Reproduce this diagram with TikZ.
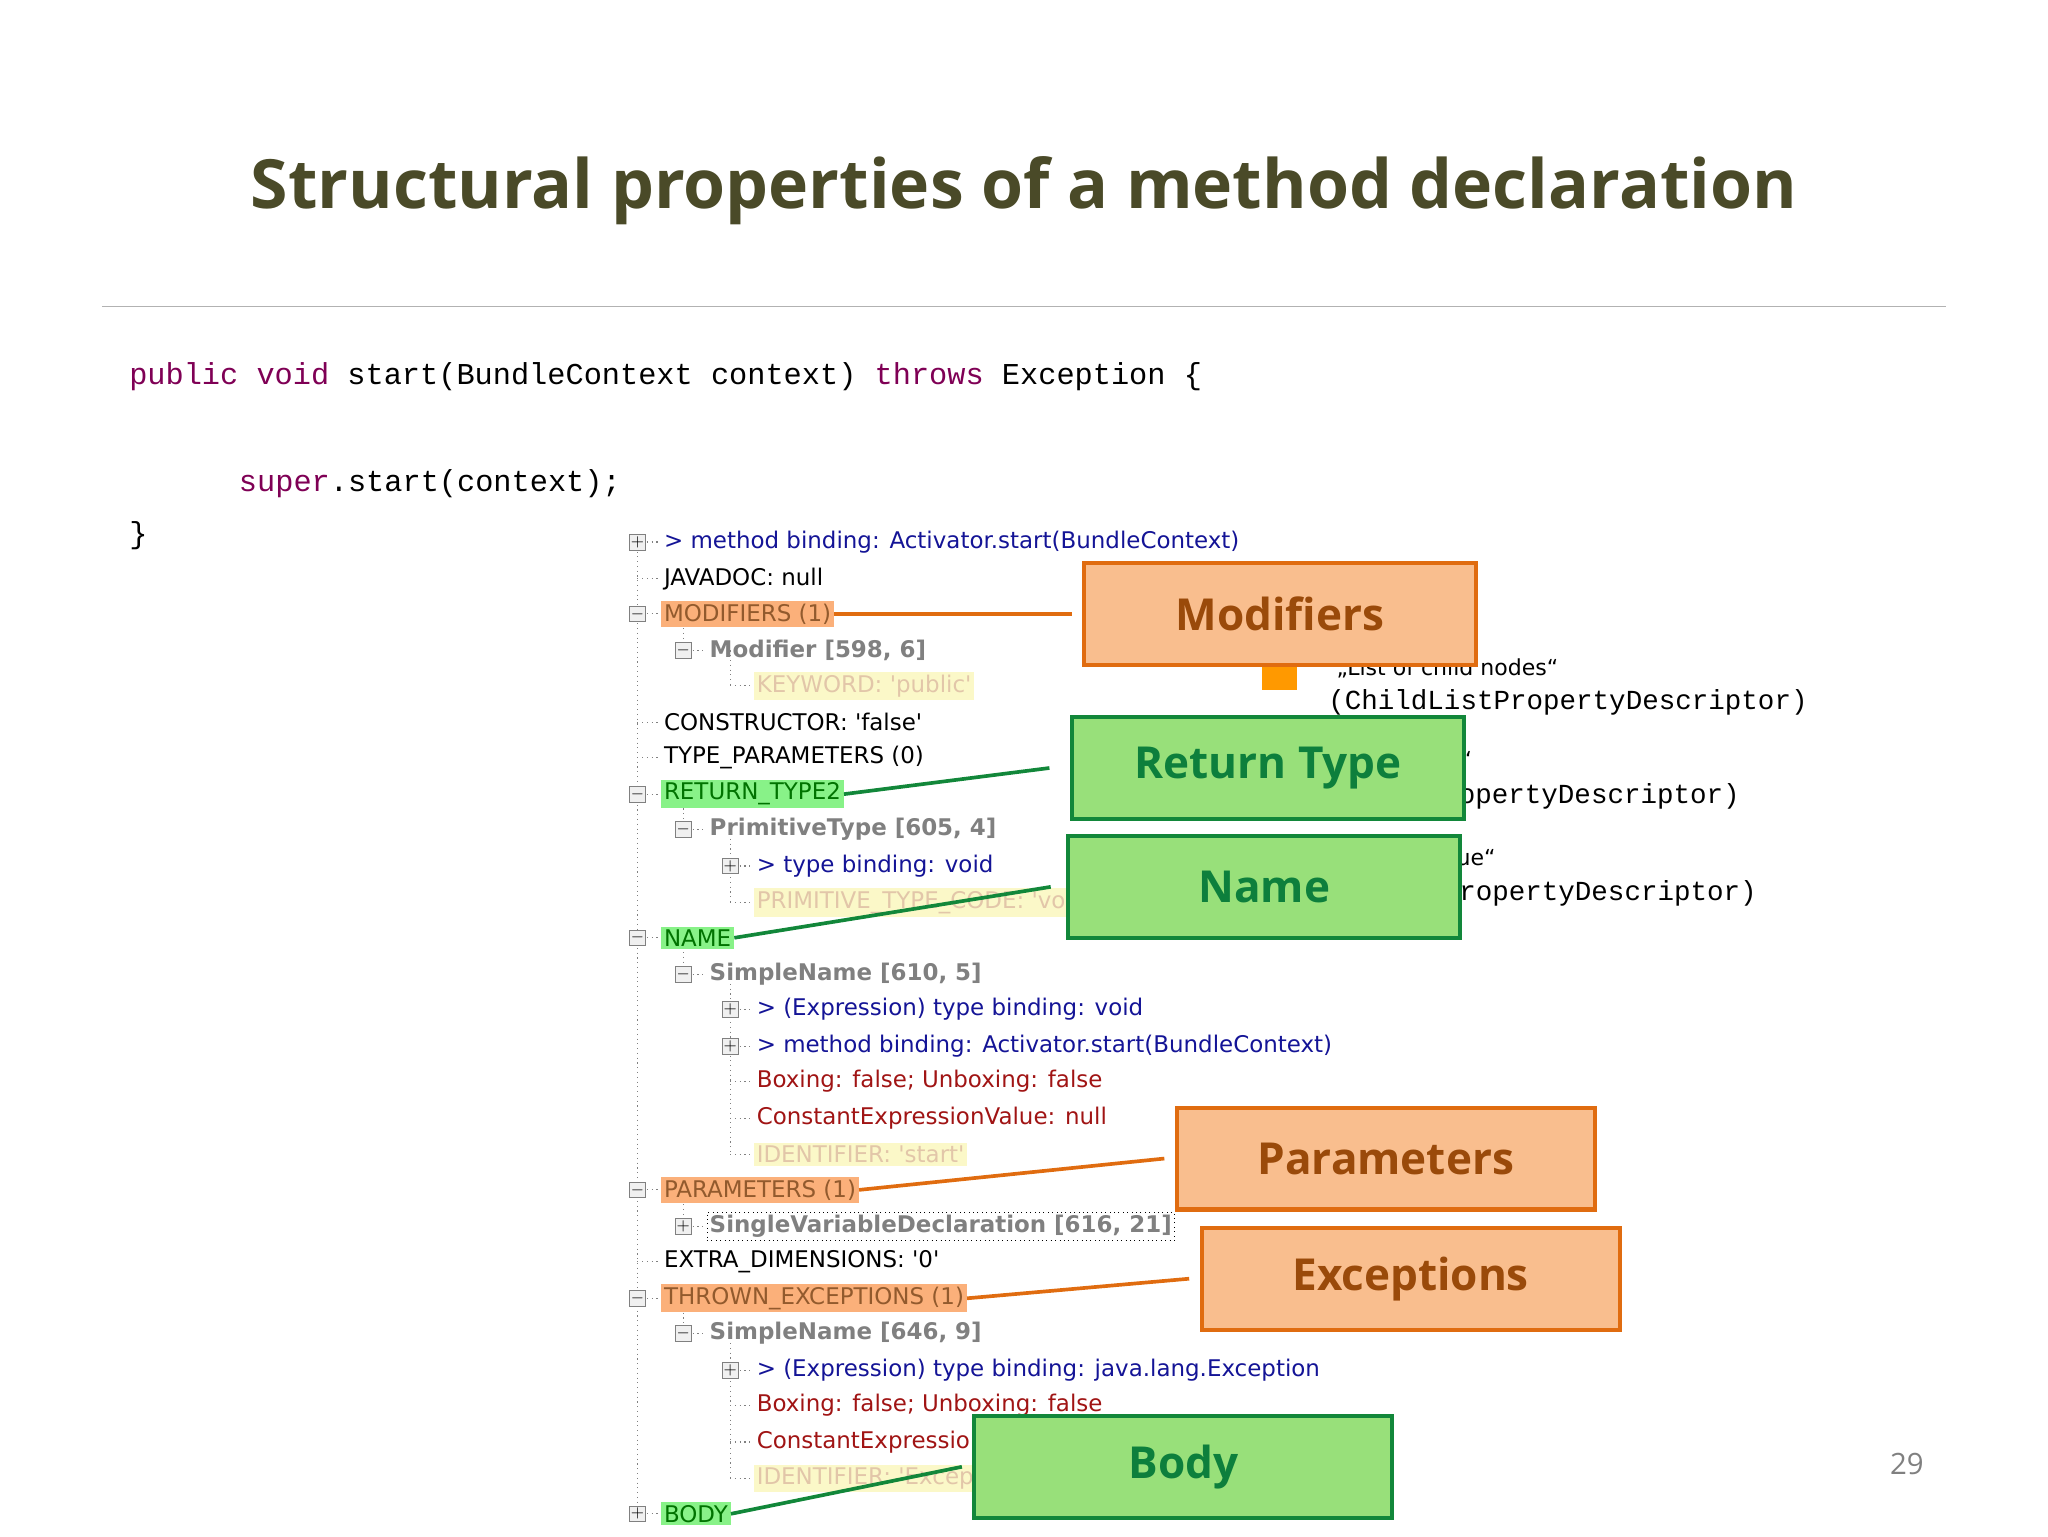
\documentclass[tikz,border=0pt]{standalone}
\usepackage{fontspec}
\setmainfont{Open Sans}
\newfontfamily\treefont{DejaVu Sans}
\newfontfamily\codefont{Liberation Mono}
\usetikzlibrary{positioning}
\definecolor{titlecol}{HTML}{4A4A28}
\definecolor{kwcol}{HTML}{7F0055}
\definecolor{navycol}{HTML}{141496}
\definecolor{redcol}{HTML}{A01414}
\definecolor{orfill}{HTML}{F9BE8E}
\definecolor{ordraw}{HTML}{E06C10}
\definecolor{ortext}{HTML}{9A4A0A}
\definecolor{grfill}{HTML}{98E07A}
\definecolor{grdraw}{HTML}{12873A}
\definecolor{grtext}{HTML}{0D7F3C}
\definecolor{orhl}{HTML}{FBB07A}
\definecolor{grhl}{HTML}{88F288}
\definecolor{yehl}{HTML}{FBF8C8}
\tikzset{
  tl/.style={anchor=west, inner sep=1.5pt, font=\treefont\fontsize{12.5}{12.5}\selectfont},
  navy/.style={tl, text=navycol},
  plain/.style={tl, text=black},
  redtl/.style={tl, text=redcol},
  boldtl/.style={tl, text=gray, font=\treefont\bfseries\fontsize{12.5}{12.5}\selectfont},
  orhl/.style={tl, fill=orhl, text=ortext!70!gray},
  grhl/.style={tl, fill=grhl, text=green!45!black},
  yehl/.style={tl, fill=yehl, text=brown!45!white},
  icon/.style={draw=gray, fill=gray!12, minimum size=3mm, inner sep=0pt, font=\treefont\bfseries\fontsize{9}{9}\selectfont},
  orbox/.style={draw=ordraw, line width=2.2pt, fill=orfill, text=ortext, font=\bfseries\fontsize{24}{24}\selectfont, minimum width=75mm, minimum height=19.5mm},
  grbox/.style={orbox, draw=grdraw, fill=grfill, text=grtext},
  orline/.style={draw=ordraw, line width=2pt},
  grline/.style={draw=grdraw, line width=2pt},
  dotl/.style={draw=gray, dotted, line width=0.6pt},
}
\begin{document}
\begin{tikzpicture}[x=0.25mm, y=-0.25mm]
    \useasboundingbox (0,0) rectangle (1568,1176);

    % Title and rule
    \node[text=titlecol, font=\bfseries\fontsize{37}{37}\selectfont] (title) at (784,146) {Structural properties of a method declaration};
    \draw[gray!60, line width=0.6pt] (78,235) -- (1490,235);

    % Source code
    \node[anchor=west, font=\codefont\fontsize{16.5}{16.5}\selectfont] (code1) at (94,288) {\textcolor{kwcol}{public void} start(BundleContext context) \textcolor{kwcol}{throws} Exception \{};
    \node[anchor=west, font=\codefont\fontsize{16.5}{16.5}\selectfont] (code2) at (178,370) {\textcolor{kwcol}{super}.start(context);};
    \node[anchor=west, font=\codefont\fontsize{16.5}{16.5}\selectfont] (code3) at (94,410) {\}};

    % Legend texts on the right (partly covered)
    \node[anchor=east, font=\treefont\fontsize{12}{12}\selectfont] (leg1) at (1198,512) {„List of child nodes“};
    \node[anchor=west, font=\codefont\fontsize{15}{15}\selectfont] (leg2) at (1012,538) {(ChildListPropertyDescriptor)};
    \node[anchor=east, font=\treefont\fontsize{12}{12}\selectfont] (leg3) at (1132,582) {„Child node“};
    \node[anchor=east, font=\codefont\fontsize{15}{15}\selectfont] (leg4) at (1337,610) {(ChildPropertyDescriptor)};
    \node[anchor=east, font=\treefont\fontsize{12}{12}\selectfont] (leg5) at (1150,658) {„Simple value“};
    \node[anchor=east, font=\codefont\fontsize{15}{15}\selectfont] (leg6) at (1350,684) {(SimplePropertyDescriptor)};
    \fill[orange!80!yellow] (966,510) rectangle (993,528);

    % Dotted tree lines
    \draw[dotl] (488,415) -- (488,1159);
    \foreach \a/\b in {470/498, 608/635, 718/746, 911/939, 994/1021}
        \draw[dotl] (523,\a) -- (523,\b);
    \foreach \a/\b in {498/525, 635/691, 746/884, 1021/1132}
        \draw[dotl] (559,\a) -- (559,\b);
    \foreach \y in {415,443,470,553,580,608,718,911,966,994,1159}
        \draw[dotl] (488,\y) -- (506,\y);
    \foreach \y in {498,635,746,939,1021}
        \draw[dotl] (523,\y) -- (541,\y);
    \foreach \y in {525,663,691,773,801,828,856,884,1049,1076,1104,1132}
        \draw[dotl] (559,\y) -- (577,\y);

    % Tree rows
    \node[navy]   (r0)  at (506,415)  {> method binding: Activator.start(BundleContext)};
    \node[plain]  (r1)  at (506,443)  {JAVADOC: null};
    \node[orhl]   (r2)  at (506,470)  {MODIFIERS (1)};
    \node[boldtl] (r3)  at (541,498)  {Modifier [598, 6]};
    \node[yehl]   (r4)  at (577,525)  {KEYWORD: 'public'};
    \node[plain]  (r5)  at (506,553)  {CONSTRUCTOR: 'false'};
    \node[plain]  (r6)  at (506,580)  {TYPE\_PARAMETERS (0)};
    \node[grhl]   (r7)  at (506,608)  {RETURN\_TYPE2};
    \node[boldtl] (r8)  at (541,635)  {PrimitiveType [605, 4]};
    \node[navy]   (r9)  at (577,663)  {> type binding: void};
    \node[yehl]   (r10) at (577,691)  {PRIMITIVE\_TYPE\_CODE: 'void'};
    \node[grhl]   (r11) at (506,718)  {NAME};
    \node[boldtl] (r12) at (541,746)  {SimpleName [610, 5]};
    \node[navy]   (r13) at (577,773)  {> (Expression) type binding: void};
    \node[navy]   (r14) at (577,801)  {> method binding: Activator.start(BundleContext)};
    \node[redtl]  (r15) at (577,828)  {Boxing: false; Unboxing: false};
    \node[redtl]  (r16) at (577,856)  {ConstantExpressionValue: null};
    \node[yehl]   (r17) at (577,884)  {IDENTIFIER: 'start'};
    \node[orhl]   (r18) at (506,911)  {PARAMETERS (1)};
    \node[boldtl, draw=black, dotted] (r19) at (541,939) {SingleVariableDeclaration [616, 21]};
    \node[plain]  (r20) at (506,966)  {EXTRA\_DIMENSIONS: '0'};
    \node[orhl]   (r21) at (506,994)  {THROWN\_EXCEPTIONS (1)};
    \node[boldtl] (r22) at (541,1021) {SimpleName [646, 9]};
    \node[navy]   (r23) at (577,1049) {> (Expression) type binding: java.lang.Exception};
    \node[redtl]  (r24) at (577,1076) {Boxing: false; Unboxing: false};
    \node[redtl]  (r25) at (577,1104) {ConstantExpressionValue: null};
    \node[yehl]   (r26) at (577,1132) {IDENTIFIER: 'Exception'};
    \node[grhl]   (r27) at (506,1159) {BODY};

    % Expand / collapse icons
    \foreach \x/\y/\s [count=\i] in {488/415/+, 488/470/-, 523/498/-, 488/608/-, 523/635/-, 559/663/+,
        488/718/-, 523/746/-, 559/773/+, 559/801/+, 488/911/-, 523/939/+, 488/994/-, 523/1021/-,
        559/1049/+, 488/1159/+}
        \node[icon] (ic\i) at (\x,\y) {$\s$};

    % Callout boxes
    \node[orbox] (modifiers)  at (980,470)  {Modifiers};
    \node[grbox] (rettype)    at (971,588)  {Return Type};
    \node[grbox] (name)       at (968,679)  {Name};
    \node[orbox, minimum width=80mm] (parameters) at (1061,887) {Parameters};
    \node[orbox, minimum width=80mm] (exceptions) at (1080,979) {Exceptions};
    \node[grbox, minimum width=80mm] (body)       at (906,1123) {Body};

    % Connectors
    \draw[orline] (r2.east)  -- ([xshift=-2mm]modifiers.west);
    \draw[grline] (r7.east)  -- ([xshift=-4mm]rettype.west);
    \draw[grline] (r11.east) -- ([xshift=-3mm]name.west);
    \draw[orline] (r18.east) -- ([xshift=-2mm]parameters.west);
    \draw[orline] (r21.east) -- ([xshift=-2mm]exceptions.west);
    \draw[grline] (r27.east) -- ([xshift=-2mm]body.west);

    % Page number
    \node[text=gray, font=\fontsize{16}{16}\selectfont] (page) at (1460,1121) {29};
\end{tikzpicture}
\end{document}
